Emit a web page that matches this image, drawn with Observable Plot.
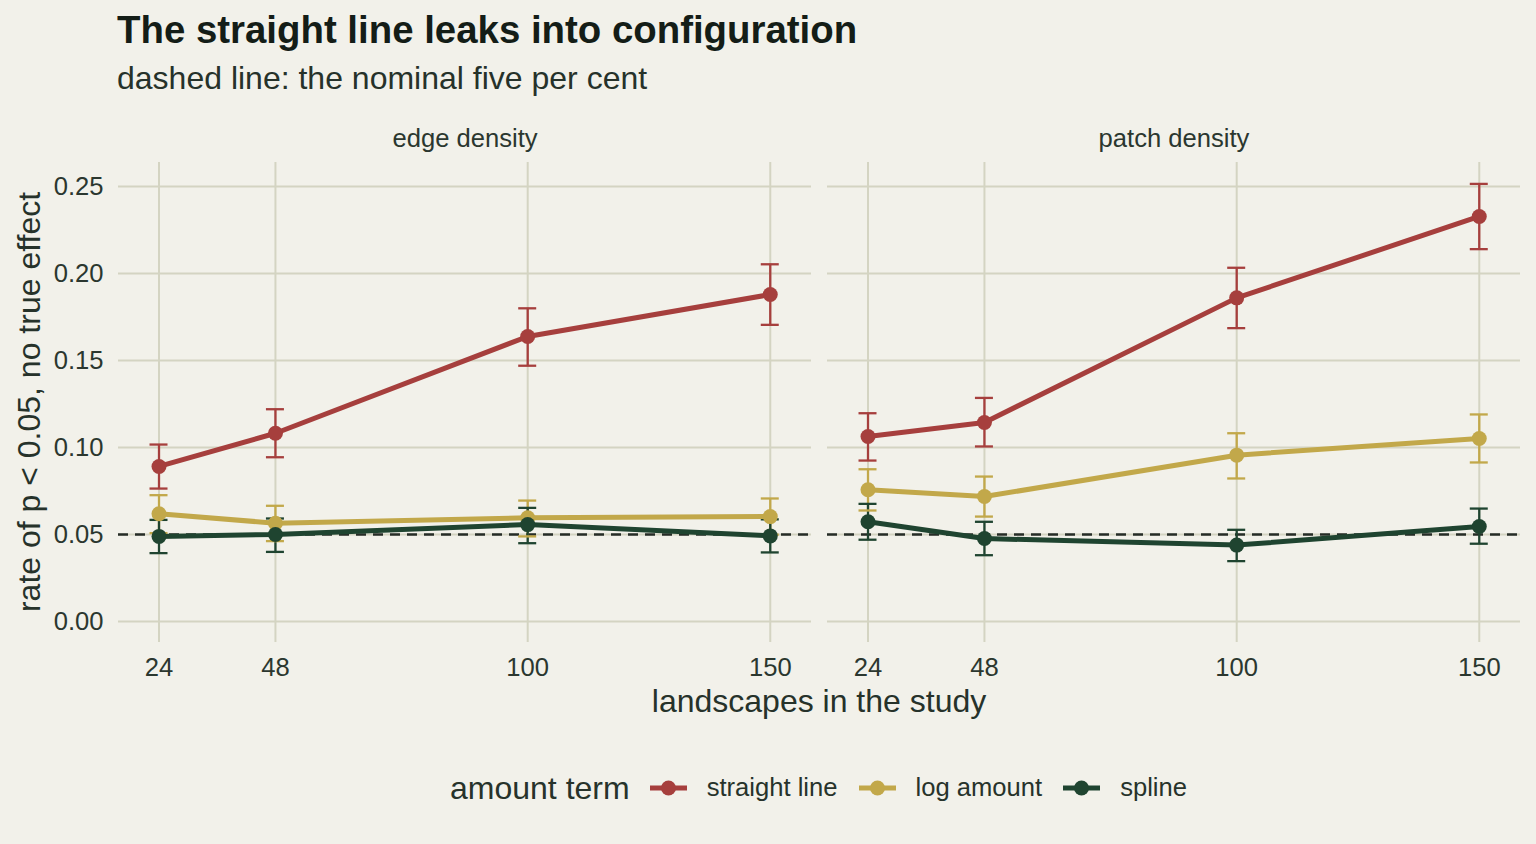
<!DOCTYPE html>
<html>
<head>
<meta charset="utf-8">
<script src="https://cdn.jsdelivr.net/npm/d3@7"></script>
<script src="https://cdn.jsdelivr.net/npm/@observablehq/plot@0.6"></script>
<style>
  html, body { margin: 0; padding: 0; background: #F2F1EA; }
  #wrap { position: relative; width: 1536px; height: 844px; overflow: hidden;
          font-family: "Liberation Sans", Arial, sans-serif; color: #27332B; }
  .t { position: absolute; white-space: nowrap; line-height: 1; }
  #legend { position: absolute; left: 450px; top: 768px; height: 40px; display: flex; align-items: center; white-space: nowrap; }
  #legend .lt { font-size: 32px; line-height: 1; margin-right: 20px; }
  #legend .ll { font-size: 25.6px; line-height: 1; margin-left: 20px; margin-right: 21px; }
  #legend svg { display: block; }
</style>
</head>
<body>
<div id="wrap">
  <div class="t" style="left:117px;top:11px;font-size:38.4px;font-weight:bold;color:#141D17">The straight line leaks into configuration</div>
  <div class="t" style="left:117px;top:62px;font-size:32px;color:#26322A">dashed line: the nominal five per cent</div>
  <div id="chart" style="position:absolute;left:0;top:100px"></div>
  <div class="t" style="left:819px;top:685px;font-size:32px;transform:translateX(-50%);color:#26322A">landscapes in the study</div>
  <div class="t" style="left:13px;top:402px;font-size:32px;transform-origin:0 0;transform:rotate(-90deg) translate(-50%,0);color:#26322A">rate of p &lt; 0.05, no true effect</div>
  <div id="legend"></div>
</div>
<script>
// ---- data ----
const sizes = [24, 48, 100, 150];
const facets = ["edge density", "patch density"];
const terms = ["straight line", "log amount", "spline"];
const colors = ["#A63F3D", "#C2A84A", "#1F4430"];
const yTicks = [0, 0.05, 0.10, 0.15, 0.20, 0.25];
const nominal = 0.05;
const legendTitle = "amount term";

// edge density
const edgeStraight   = [0.0891, 0.1082, 0.1638, 0.1879];
const edgeStraightLo = [0.0764, 0.0944, 0.1470, 0.1705];
const edgeStraightHi = [0.1017, 0.1220, 0.1800, 0.2053];
const edgeLog        = [0.0619, 0.0565, 0.0596, 0.0603];
const edgeLogLo      = [0.0508, 0.0462, 0.0489, 0.0499];
const edgeLogHi      = [0.0726, 0.0665, 0.0695, 0.0707];
const edgeSpline     = [0.0489, 0.0500, 0.0557, 0.0492];
const edgeSplineLo   = [0.0393, 0.0400, 0.0450, 0.0397];
const edgeSplineHi   = [0.0584, 0.0592, 0.0653, 0.0587];
// patch density
const patchStraight   = [0.1063, 0.1144, 0.1860, 0.2328];
const patchStraightLo = [0.0925, 0.1006, 0.1686, 0.2140];
const patchStraightHi = [0.1197, 0.1285, 0.2033, 0.2515];
const patchLog        = [0.0757, 0.0718, 0.0956, 0.1052];
const patchLogLo      = [0.0638, 0.0603, 0.0822, 0.0914];
const patchLogHi      = [0.0875, 0.0833, 0.1082, 0.1190];
const patchSpline     = [0.0573, 0.0477, 0.0439, 0.0546];
const patchSplineLo   = [0.0470, 0.0381, 0.0347, 0.0447];
const patchSplineHi   = [0.0676, 0.0573, 0.0527, 0.0649];

const series = [
  [facets[0], terms[0], edgeStraight, edgeStraightLo, edgeStraightHi],
  [facets[0], terms[1], edgeLog, edgeLogLo, edgeLogHi],
  [facets[0], terms[2], edgeSpline, edgeSplineLo, edgeSplineHi],
  [facets[1], terms[0], patchStraight, patchStraightLo, patchStraightHi],
  [facets[1], terms[1], patchLog, patchLogLo, patchLogHi],
  [facets[1], terms[2], patchSpline, patchSplineLo, patchSplineHi]
];
const rows = series.flatMap(([facet, term, est, lo, hi]) =>
  sizes.map((n, i) => ({facet, term, n, rate: est[i], lo: lo[i], hi: hi[i]})));

const gridColor = "#D4D4C2";
const chart = Plot.plot({
  width: 1536,
  height: 640,
  marginLeft: 118,
  marginRight: 16,
  marginTop: 62,
  marginBottom: 98,
  style: {background: "transparent", fontFamily: "Liberation Sans, Arial, sans-serif", fontSize: "25.6px", color: "#2B372F", overflow: "visible"},
  fx: {domain: facets, paddingInner: 0.0226, paddingOuter: 0, label: null},
  x: {domain: [15.65, 158.5]},
  y: {domain: [-0.01207, 0.2638]},
  color: {domain: terms, range: colors},
  marks: [
    Plot.gridX(sizes, {stroke: gridColor, strokeOpacity: 1, strokeWidth: 2}),
    Plot.gridY(yTicks, {stroke: gridColor, strokeOpacity: 1, strokeWidth: 2}),
    Plot.axisFx({anchor: "top", tickSize: 0, tickPadding: 16, label: null, fontSize: 25.6}),
    Plot.axisX({ticks: sizes, tickSize: 0, tickPadding: 15, label: null, fontSize: 25.6}),
    Plot.axisY({ticks: yTicks, tickFormat: ".2f", tickSize: 0, tickPadding: 15, label: null, fontSize: 25.6}),
    Plot.ruleY([nominal], {stroke: "#262C27", strokeWidth: 2.7, strokeDasharray: "10,7"}),
    Plot.ruleX(rows, {fx: "facet", x: "n", y1: "lo", y2: "hi", stroke: "term", strokeWidth: 2.3}),
    Plot.ruleY(rows, {fx: "facet", x1: "n", x2: "n", y: "lo", stroke: "term", strokeWidth: 2.3, insetLeft: -9, insetRight: -9}),
    Plot.ruleY(rows, {fx: "facet", x1: "n", x2: "n", y: "hi", stroke: "term", strokeWidth: 2.3, insetLeft: -9, insetRight: -9}),
    Plot.line(rows, {fx: "facet", x: "n", y: "rate", stroke: "term", z: "term", strokeWidth: 5}),
    Plot.dot(rows, {fx: "facet", x: "n", y: "rate", fill: "term", r: 7.5})
  ]
});
document.getElementById("chart").appendChild(chart);

// ---- legend ----
const legend = document.getElementById("legend");
const lt = document.createElement("span");
lt.className = "lt"; lt.textContent = legendTitle; legend.appendChild(lt);
terms.forEach((term, i) => {
  const ns = "http://www.w3.org/2000/svg";
  const svg = document.createElementNS(ns, "svg");
  svg.setAttribute("width", 37); svg.setAttribute("height", 20);
  const ln = document.createElementNS(ns, "line");
  ln.setAttribute("x1", 0); ln.setAttribute("x2", 37); ln.setAttribute("y1", 10); ln.setAttribute("y2", 10);
  ln.setAttribute("stroke", colors[i]); ln.setAttribute("stroke-width", 5);
  const c = document.createElementNS(ns, "circle");
  c.setAttribute("cx", 18.5); c.setAttribute("cy", 10); c.setAttribute("r", 7.5); c.setAttribute("fill", colors[i]);
  svg.appendChild(ln); svg.appendChild(c);
  legend.appendChild(svg);
  const lab = document.createElement("span");
  lab.className = "ll"; lab.textContent = term;
  if (i === terms.length - 1) lab.style.marginRight = "0";
  legend.appendChild(lab);
});
</script>
</body>
</html>
